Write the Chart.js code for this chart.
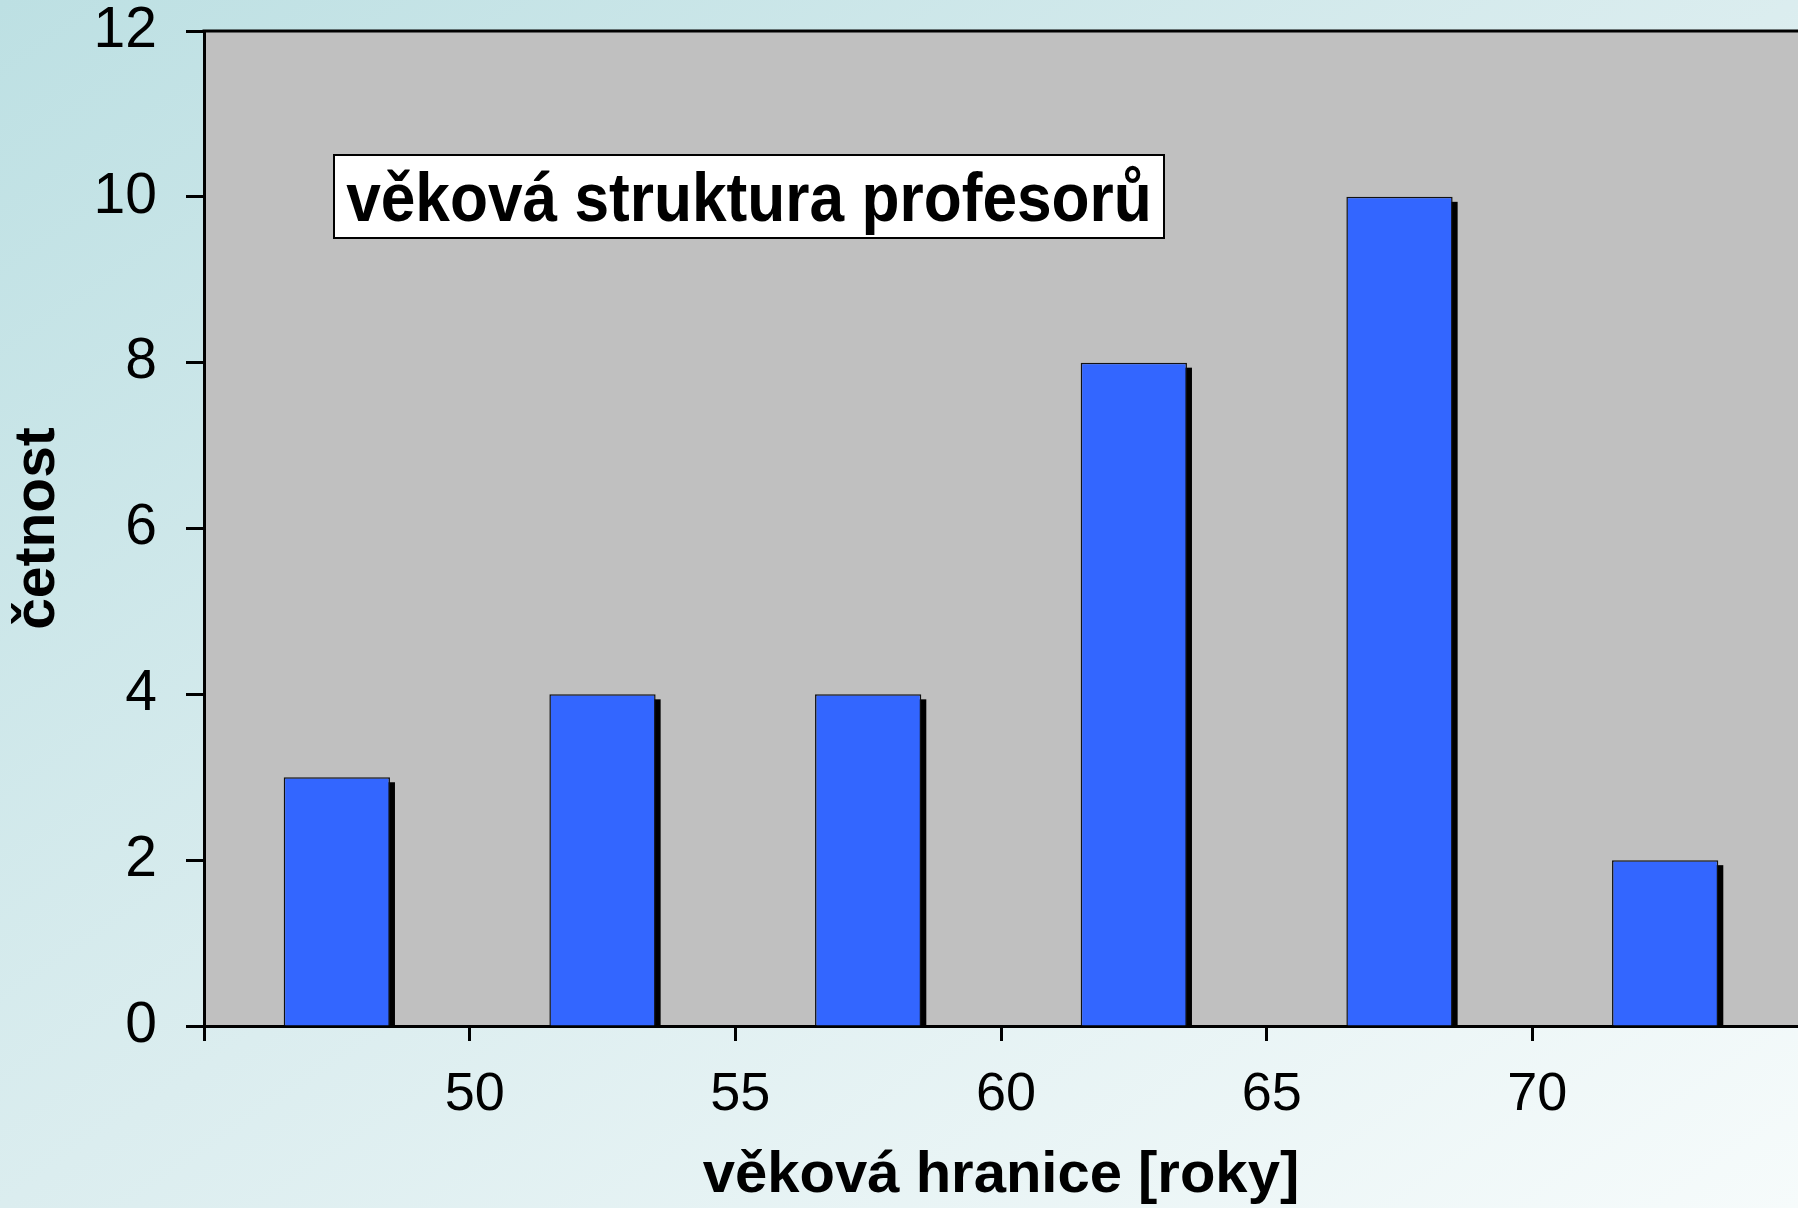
<!DOCTYPE html>
<html>
<head>
<meta charset="utf-8">
<script src="https://cdn.jsdelivr.net/npm/chart.js@4/dist/chart.umd.min.js"></script>
<style>
  html, body { margin: 0; padding: 0; }
  body {
    width: 1798px; height: 1208px; overflow: hidden;
    background: linear-gradient(to bottom right, #bde0e3 0%, #dbedef 50%, #f6fbfb 100%);
  }
  canvas { display: block; }
</style>
</head>
<body>
<canvas id="c" width="1798" height="1208"></canvas>
<script>
// ---- data ----
const binCenters = [47.5, 52.5, 57.5, 62.5, 67.5, 72.5];
const counts = [3, 4, 4, 8, 10, 2];
const xTickLabels = [50, 55, 60, 65, 70];
const xRange = [45, 75];
const yRange = [0, 12];
const chartTitle = 'věková struktura profesorů';
const xTitle = 'věková hranice [roky]';
const yTitle = 'četnost';

const FONT = '"Liberation Sans", Arial, Helvetica, sans-serif';

const plotBg = {
  id: 'plotBg',
  beforeDraw(chart) {
    const {ctx, chartArea: a} = chart;
    ctx.save();
    ctx.fillStyle = '#c0c0c0';
    ctx.fillRect(a.left, a.top, a.right - a.left, a.bottom - a.top);
    ctx.restore();
  },
  afterDraw(chart) {
    const {ctx, chartArea: a} = chart;
    ctx.save();
    ctx.strokeStyle = '#000';
    ctx.lineWidth = 3;
    ctx.beginPath();
    ctx.moveTo(a.left - 1.5, a.top);
    ctx.lineTo(a.right, a.top);
    ctx.stroke();
    ctx.restore();
  }
};

const barShadow = {
  id: 'barShadow',
  beforeDatasetsDraw(chart) {
    const {ctx} = chart;
    const meta = chart.getDatasetMeta(0);
    ctx.save();
    ctx.fillStyle = '#000';
    meta.data.forEach(bar => {
      const p = bar.getProps(['x', 'y', 'base', 'width'], true);
      const l = p.x - p.width / 2 + 5;
      const top = p.y + 5;
      ctx.fillRect(l, top, p.width, p.base - top);
    });
    ctx.restore();
  }
};

const titleBox = {
  id: 'titleBox',
  afterDatasetsDraw(chart) {
    const {ctx, chartArea: a} = chart;
    const left = a.left + 130, top = a.top + 124, w = 830, h = 83;
    ctx.save();
    ctx.fillStyle = '#fff';
    ctx.fillRect(left, top, w, h);
    ctx.strokeStyle = '#000';
    ctx.lineWidth = 2;
    ctx.strokeRect(left, top, w, h);
    ctx.fillStyle = '#000';
    ctx.font = 'bold 68px ' + FONT;
    ctx.textAlign = 'center';
    ctx.textBaseline = 'alphabetic';
    ctx.translate(left + w / 2, top + 66);
    ctx.scale(0.915, 1);
    ctx.fillText(chartTitle, 0, 0);
    ctx.restore();
  }
};

new Chart(document.getElementById('c'), {
  type: 'bar',
  data: {
    datasets: [{
      data: binCenters.map((x, i) => ({x: x, y: counts[i]})),
      backgroundColor: '#3366ff',
      borderColor: '#111111',
      borderWidth: 1.5,
      barPercentage: 0.4,
      categoryPercentage: 1.0
    }]
  },
  options: {
    responsive: false,
    animation: false,
    devicePixelRatio: 1,
    layout: { padding: { top: 0, right: 0, left: 0, bottom: 0 } },
    plugins: { legend: { display: false }, tooltip: { enabled: false } },
    scales: {
      x: {
        type: 'linear',
        offset: false,
        min: xRange[0], max: xRange[1],
        afterBuildTicks(scale) {
          scale.ticks = scale.ticks.filter(t => t.value < xRange[1]);
        },
        afterFit(scale) { scale.height = 182; scale.paddingRight = 0; scale.paddingLeft = 0; },
        ticks: {
          stepSize: 5,
          padding: 22,
          labelOffset: 5,
          color: '#000',
          font: { family: FONT, size: 54 },
          maxRotation: 0,
          autoSkip: false,
          callback: v => xTickLabels.includes(v) ? String(v) : ''
        },
        grid: { display: true, offset: false, drawOnChartArea: false, drawTicks: true, tickLength: 15, tickColor: '#000', tickWidth: 3 },
        border: { display: true, color: '#000', width: 3 },
        title: {
          display: true, text: xTitle, color: '#000',
          font: { family: FONT, size: 58, weight: 'bold', lineHeight: 1.1 },
          padding: { top: 0, bottom: 0 }
        }
      },
      y: {
        min: yRange[0], max: yRange[1],
        afterFit(scale) { scale.width = 204; scale.paddingTop = 31; scale.paddingBottom = 0; },
        ticks: {
          stepSize: 2,
          padding: 29,
          color: '#000',
          font: { family: FONT, size: 57 }
        },
        grid: { display: true, drawOnChartArea: false, drawTicks: true, tickLength: 18, tickColor: '#000', tickWidth: 3 },
        border: { display: true, color: '#000', width: 3 },
        title: {
          display: true, text: yTitle, color: '#000',
          font: { family: FONT, size: 57, weight: 'bold', lineHeight: 1.2 },
          padding: { top: 4, bottom: 0 }
        }
      }
    }
  },
  plugins: [plotBg, barShadow, titleBox]
});
</script>
</body>
</html>
